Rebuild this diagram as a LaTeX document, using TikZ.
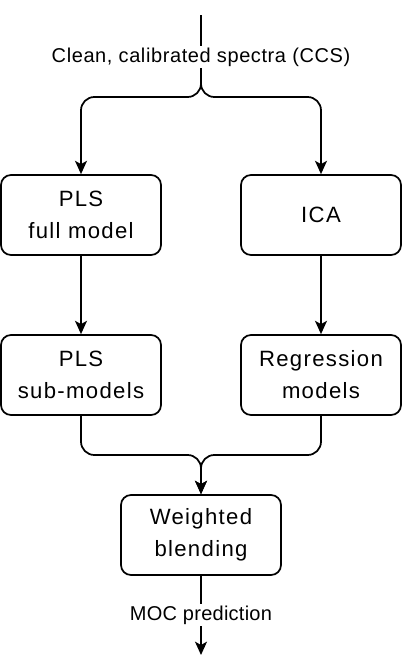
\documentclass[tikz,border=0pt]{standalone}
\usepackage{fontspec}
\setmainfont{Liberation Sans}
\newfontfamily\boxfont[LetterSpace=6]{Liberation Sans}
\newfontfamily\labfont[LetterSpace=3]{Liberation Sans}
\newfontfamily\moclabfont[LetterSpace=1.3]{Liberation Sans}
\usetikzlibrary{arrows.meta}
\begin{document}
\begin{tikzpicture}[x=0.75pt,y=-0.75pt,
  line width=1.3pt,
  box/.style={draw, rounded corners=7.5pt, minimum width=120pt, minimum height=60pt,
    align=center, inner sep=0pt, font=\boxfont\fontsize{16.6}{24}\selectfont},
  lab/.style={fill=white, inner sep=1.5pt, font=\labfont\fontsize{15}{17}\selectfont},
  conn/.style={rounded corners=10pt},
  arr/.style={-{Stealth[length=10pt,width=9pt,inset=2.5pt]}}]
\useasboundingbox (0,0) rectangle (404,672);
\node[box] (full) at (81,215) {PLS\\full model};
\node[box] (ica) at (321,215) {ICA};
\node[box] (sub) at (81,375) {PLS\\sub-models};
\node[box] (reg) at (321,375) {Regression\\models};
\node[box] (blend) at (201,535) {Weighted\\blending};
\coordinate (top) at (201,15);
\coordinate (split) at (201,97);
\coordinate (merge) at (201,455);
\coordinate (end) at (201,655);
\draw[conn,arr] (top) -- (split) -| (full.north);
\draw[conn,arr] (top) -- (split) -| (ica.north);
\draw[arr] (full) -- (sub);
\draw[arr] (ica) -- (reg);
\draw[conn,arr] (sub.south) |- (merge) -- (blend.north);
\draw[conn,arr] (reg.south) |- (merge) -- (blend.north);
\draw[arr] (blend) -- (end);
\node[lab] (ccs) at (201,57) {Clean, calibrated spectra (CCS)};
\node[lab, font=\moclabfont\fontsize{15}{17}\selectfont] (moc) at (201,615) {MOC prediction};
\end{tikzpicture}
\end{document}
